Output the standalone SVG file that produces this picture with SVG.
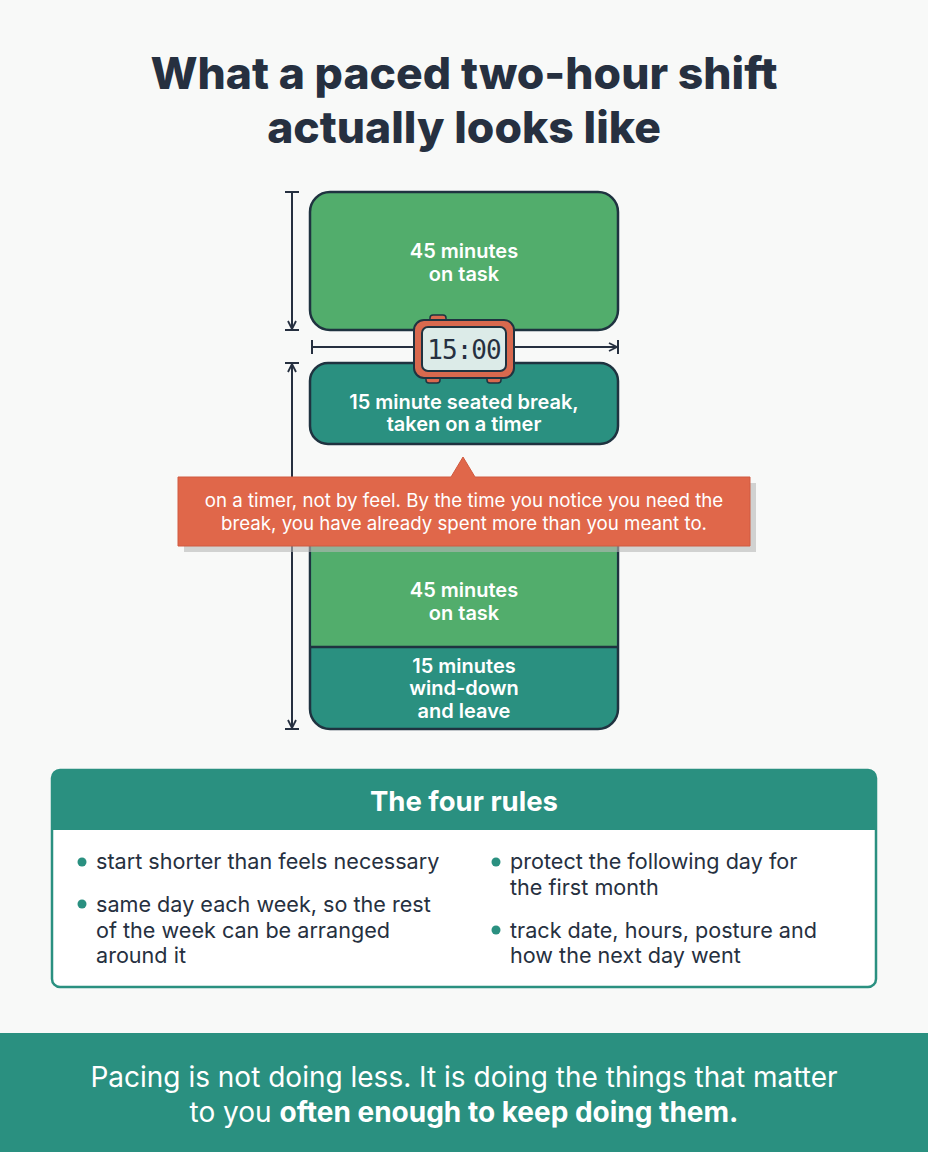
<svg xmlns="http://www.w3.org/2000/svg" width="928" height="1152" viewBox="0 0 928 1152">
<defs>
<style>
.t{font-family:Inter,"Liberation Sans",sans-serif;font-weight:600;fill:#fff;text-anchor:middle;font-size:20px}
.dim{stroke:#263040;stroke-width:2;fill:none}
.li{font-family:Inter,"Liberation Sans",sans-serif;font-size:21.6px;fill:#263040}
</style>
<marker id="ah" viewBox="0 0 10 10" refX="9" refY="5" markerWidth="10" markerHeight="10" orient="auto-start-reverse" markerUnits="userSpaceOnUse"><path d="M1,1 L9,5 L1,9" fill="none" stroke="#263040" stroke-width="1.8"/></marker>
</defs>
<rect width="928" height="1152" fill="#f8f9f8"/>
<text x="464" y="89" font-family="Inter,'Liberation Sans',sans-serif" font-weight="800" font-size="44.5" fill="#263040" text-anchor="middle">What a paced two-hour shift</text>
<text x="464" y="143" font-family="Inter,'Liberation Sans',sans-serif" font-weight="800" font-size="44.5" fill="#263040" text-anchor="middle">actually looks like</text>

<g id="block1"><rect x="310" y="192" width="308" height="138" rx="20" fill="#52ad6c" stroke="#1f3340" stroke-width="2.5"/>
<text class="t" x="464" y="258">45 minutes</text><text class="t" x="464" y="281">on task</text></g>
<g id="block2"><rect x="310" y="363" width="308" height="81" rx="18" fill="#2a9080" stroke="#1f3340" stroke-width="2.5"/>
<text class="t" x="464" y="409">15 minute seated break,</text><text class="t" x="464" y="431">taken on a timer</text></g>
<g id="block3"><path d="M310,520 H618 V709 a20,20 0 0 1 -20,20 H330 a20,20 0 0 1 -20,-20 Z" fill="#2a9080" stroke="#1f3340" stroke-width="2.5"/>
<rect x="311.2" y="521" width="305.6" height="126" fill="#52ad6c"/>
<line x1="310" y1="647" x2="618" y2="647" stroke="#1f3340" stroke-width="2.5"/>
<text class="t" x="464" y="597">45 minutes</text><text class="t" x="464" y="620">on task</text>
<text class="t" x="464" y="673">15 minutes</text><text class="t" x="464" y="695">wind-down</text><text class="t" x="464" y="718">and leave</text></g>

<g id="connectors">
<line class="dim" x1="292" y1="192" x2="292" y2="329" marker-end="url(#ah)"/>
<line class="dim" x1="285" y1="192" x2="299" y2="192"/><line class="dim" x1="285" y1="330" x2="299" y2="330"/>
<line class="dim" x1="312" y1="347" x2="617" y2="347" marker-end="url(#ah)"/>
<line class="dim" x1="312" y1="340" x2="312" y2="354"/><line class="dim" x1="618" y1="340" x2="618" y2="354"/>
<line class="dim" x1="292" y1="364" x2="292" y2="728" marker-start="url(#ah)" marker-end="url(#ah)"/>
<line class="dim" x1="285" y1="363" x2="299" y2="363"/><line class="dim" x1="285" y1="729" x2="299" y2="729"/>
</g>

<g id="clock">
<rect x="430" y="315" width="16" height="8" rx="3" fill="#d8694e" stroke="#1f3340" stroke-width="1.5"/>
<rect x="426" y="375" width="14" height="8" rx="3" fill="#d8694e" stroke="#1f3340" stroke-width="1.5"/>
<rect x="487" y="375" width="14" height="8" rx="3" fill="#d8694e" stroke="#1f3340" stroke-width="1.5"/>
<rect x="414" y="320" width="100" height="58" rx="10" fill="#d8694e" stroke="#1f3340" stroke-width="2"/>
<rect x="422" y="327" width="84" height="44" rx="6" fill="#dcebe8" stroke="#1f3340" stroke-width="2"/>
<text x="464" y="359" font-family="'DejaVu Sans Mono','Liberation Mono',monospace" font-size="26" fill="#263040" text-anchor="middle" letter-spacing="-1">15:00</text>
</g>

<g id="callout">
<path d="M184,483 H452 L463,462 L474,483 H756 V552 H184 Z" fill="#b8b8b8" opacity="0.6"/>
<path d="M178,477 H451 L463,457 L475,477 H750 V546 H178 Z" fill="#e0674a" stroke="#d05a40" stroke-width="1" stroke-linejoin="round"/>
<text x="464" y="507" font-family="Inter,'Liberation Sans',sans-serif" font-size="18.7" fill="#fff" text-anchor="middle">on a timer, not by feel. By the time you notice you need the</text>
<text x="464" y="530" font-family="Inter,'Liberation Sans',sans-serif" font-size="18.7" fill="#fff" text-anchor="middle">break, you have already spent more than you meant to.</text>
</g>

<g id="rules">
<rect x="52" y="770" width="824" height="217" rx="8" fill="#fff" stroke="#2a9080" stroke-width="2.5"/>
<path d="M52,830 V778 a8,8 0 0 1 8,-8 H868 a8,8 0 0 1 8,8 V830 Z" fill="#2a9080"/>
<text x="464" y="811" font-family="Inter,'Liberation Sans',sans-serif" font-weight="700" font-size="27.5" fill="#fff" text-anchor="middle">The four rules</text>
<g fill="#2a9080"><circle cx="82" cy="862" r="4.5"/><circle cx="82" cy="904" r="4.5"/><circle cx="496" cy="862" r="4.5"/><circle cx="496" cy="930" r="4.5"/></g>
<text class="li" x="96" y="869">start shorter than feels necessary</text>
<text class="li" x="96" y="912">same day each week, so the rest</text>
<text class="li" x="96" y="938">of the week can be arranged</text>
<text class="li" x="96" y="963">around it</text>
<text class="li" x="510" y="869">protect the following day for</text>
<text class="li" x="510" y="895">the first month</text>
<text class="li" x="510" y="938">track date, hours, posture and</text>
<text class="li" x="510" y="963">how the next day went</text>
</g>

<g id="footer">
<rect x="0" y="1033" width="928" height="119" fill="#2a9080"/>
<text x="464" y="1087" font-family="Inter,'Liberation Sans',sans-serif" font-size="28" fill="#fff" text-anchor="middle">Pacing is not doing less. It is doing the things that matter</text>
<text x="464" y="1122" font-family="Inter,'Liberation Sans',sans-serif" font-size="28" fill="#fff" text-anchor="middle">to you <tspan font-weight="700">often enough to keep doing them.</tspan></text>
</g>
</svg>
